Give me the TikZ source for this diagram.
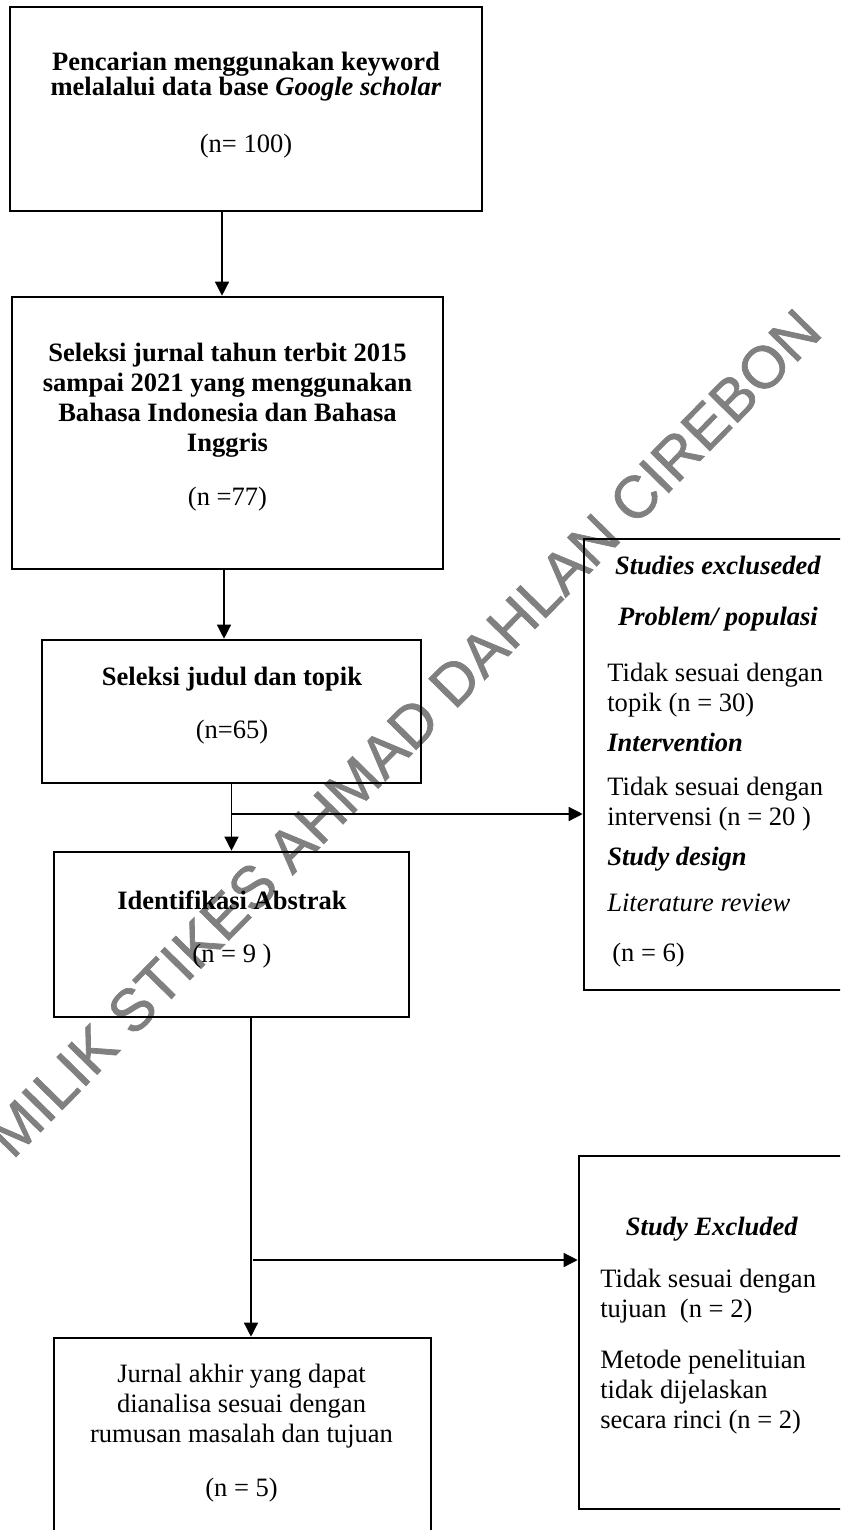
\documentclass[tikz,border=0pt]{standalone}
\usepackage{fontspec}
\setmainfont{Liberation Serif}
\newfontfamily\wmfont[FakeBold=1.2]{Liberation Sans}
\usetikzlibrary{arrows.meta}

\begin{document}
\begin{tikzpicture}[x=0.02cm,y=-0.02cm,
  box/.style={draw=black,line width=1.5pt,inner sep=0pt},
  txt/.style={font=\fontsize{15.1}{17.07}\selectfont,align=center,inner sep=0pt},
  body/.style={font=\fontsize{15.1}{17.07}\selectfont,align=left,inner sep=0pt,anchor=west},
  wm/.style={font=\wmfont\fontsize{33.8}{40}\selectfont,text=black!50,rotate=45.5,inner sep=0pt},
  arr/.style={line width=0.75pt,-{Triangle[width=0.28cm,length=0.28cm]}}]
\useasboundingbox (0,0) rectangle (840,1530);
\clip (0,0) rectangle (840,1530);

\node (wm) at (404,733) [wm]{MILIK STIKES AHMAD DAHLAN CIREBON};

\node (box1) at (246,109) [box,minimum width=9.44cm,minimum height=4.08cm]{};
\node (box2) at (227.5,433) [box,minimum width=8.62cm,minimum height=5.44cm]{};
\node (box3) at (231.5,711.5) [box,minimum width=7.58cm,minimum height=2.86cm]{};
\node (box4) at (231.5,934.5) [box,minimum width=7.1cm,minimum height=3.3cm]{};
\node (box5) at (242.5,1449) [box,minimum width=7.54cm,minimum height=4.44cm]{};
\node (excl1) at (727,764.5) [box,minimum width=5.72cm,minimum height=9.02cm]{};
\node (excl2) at (724.5,1332.5) [box,minimum width=5.82cm,minimum height=7.06cm]{};

\node (t1) at (246,105) [txt,font=\fontsize{15.1}{14.23}\selectfont]{\textbf{Pencarian menggunakan keyword}\\
  \textbf{melalalui data base \textit{Google scholar}}\\[0.64cm](n= 100)};
\node (t2) at (227.5,427) [txt]{\textbf{Seleksi jurnal tahun terbit 2015}\\
  \textbf{sampai 2021 yang menggunakan}\\\textbf{Bahasa Indonesia dan Bahasa}\\
  \textbf{Inggris}\\[0.48cm](n =77)};
\node (t3) at (232,705.5) [txt]{\textbf{Seleksi judul dan topik}\\[0.46cm](n=65)};
\node (t4) at (232,929) [txt]{\textbf{Identifikasi Abstrak}\\[0.46cm](n = 9 )};
\node (t5) at (241.5,1433.5) [txt]{Jurnal akhir yang dapat\\dianalisa sesuai dengan\\
  rumusan masalah dan tujuan\\[0.48cm](n = 5)};

\node (h1) at (718,594) [txt]{\textbf{\textit{Studies excluseded}}\\[0.42cm]\textbf{\textit{Problem/ populasi}}};
\node (e1) at (607,815) [body]{Tidak sesuai dengan\\topik (n = 30)\\[0.2cm]
  \textbf{\textit{Intervention}}\\[0.28cm]
  Tidak sesuai dengan\\intervensi (n = 20 )\\[0.2cm]
  \textbf{\textit{Study design}}\\[0.32cm]
  \textit{Literature review}\\[0.4cm]
  \hspace*{0.1cm}(n = 6)};

\node (h2) at (712,1229) [txt]{\textbf{\textit{Study Excluded}}};
\node (e2) at (600,1351.5) [body]{Tidak sesuai dengan\\tujuan\ \ (n = 2)\\[0.42cm]
  Metode penelituian\\tidak dijelaskan\\secara rinci (n = 2)};

\coordinate (a1) at (222,211);
\coordinate (a2) at (224,569);
\coordinate (a4) at (251,1017);
\coordinate (b1) at (232,814);
\coordinate (b2) at (253,1260);

\draw[arr] (a1) -- (a1 |- box2.north);
\draw[arr] (a2) -- (a2 |- box3.north);
\draw[arr] (box3.south) -- (box4.north);
\draw[arr] (a4) -- (a4 |- box5.north);
\draw[arr] (b1) -- (b1 -| excl1.west);
\draw[arr] (b2) -- (b2 -| excl2.west);

\end{tikzpicture}
\end{document}
